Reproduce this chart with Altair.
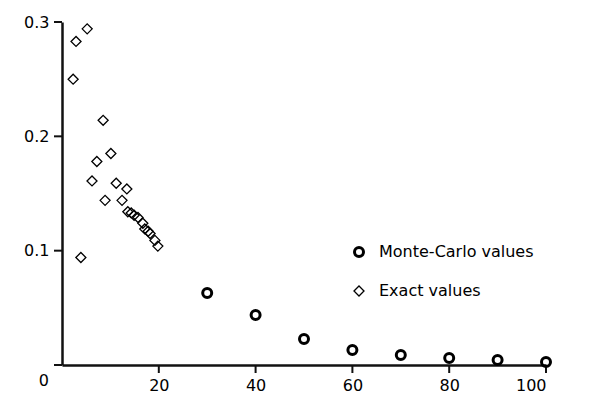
import altair as alt
import pandas as pd

# Monte-Carlo values
mc_x = [30, 40, 50, 60, 70, 80, 90, 100]
mc_y = [0.063, 0.0437, 0.0227, 0.0131, 0.0087, 0.0061, 0.0044, 0.0026]

# Exact values
ex_x = [2.3, 2.9, 5.2, 3.9, 8.5, 7.2, 10.1, 6.2, 8.9, 11.2, 13.4, 12.4,
        13.6, 14.3, 14.9, 15.7, 16.7, 17.1, 17.8, 18.2, 19.2, 19.8]
ex_y = [0.250, 0.283, 0.294, 0.094, 0.214, 0.178, 0.185, 0.161, 0.144, 0.159,
        0.154, 0.144, 0.134, 0.133, 0.131, 0.129, 0.124, 0.119, 0.117, 0.115,
        0.109, 0.104]

series_names = ["Monte-Carlo values", "Exact values"]
x_ticks = [20, 40, 60, 80, 100]
y_ticks = [0, 0.1, 0.2, 0.3]
zero_label = ["0"]

W, H = 484, 343

df = pd.DataFrame(
    {"x": mc_x + ex_x,
     "y": mc_y + ex_y,
     "series": [series_names[0]] * len(mc_x) + [series_names[1]] * len(ex_x)}
)

FONT = "DejaVu Sans"
leg = dict(title=None, orient="none", legendX=289, legendY=222)
axis_style = dict(
    title=None, grid=False, domain=True, ticks=False,
    domainColor="#111111", domainWidth=2.5,
    labelColor="black", labelFont=FONT, labelFontSize=16,
)

xs = alt.Scale(domain=[0, 100], nice=False, zero=True)
ys = alt.Scale(domain=[0, 0.3], nice=False)

points = alt.Chart(df).mark_point(filled=False, color="black", opacity=1).encode(
    x=alt.X("x:Q", scale=xs, axis=alt.Axis(values=x_ticks, labelPadding=12, **axis_style)),
    y=alt.Y("y:Q", scale=ys,
            axis=alt.Axis(values=[v for v in y_ticks if v != 0], format="~g", labelPadding=13,
                          **axis_style)),
    shape=alt.Shape("series:N", scale=alt.Scale(domain=series_names, range=["circle", "diamond"]),
                    legend=alt.Legend(**leg)),
    size=alt.Size("series:N", scale=alt.Scale(domain=series_names, range=[81, 100]),
                  legend=alt.Legend(**leg)),
    strokeWidth=alt.StrokeWidth("series:N", scale=alt.Scale(domain=series_names, range=[3, 1.3]),
                                legend=alt.Legend(**leg)),
)

xtick_rules = alt.Chart(pd.DataFrame({"t": x_ticks})).mark_rule(color="#111111", strokeWidth=2).encode(
    x=alt.X("t:Q", scale=xs), y=alt.value(H), y2=alt.value(H + 8)
)
ytick_rules = alt.Chart(pd.DataFrame({"t": y_ticks})).mark_rule(color="#111111", strokeWidth=2).encode(
    y=alt.Y("t:Q", scale=ys), x=alt.value(-8), x2=alt.value(0)
)
zero_text = alt.Chart(pd.DataFrame({"x": [0], "y": [0], "label": zero_label})).mark_text(
    font=FONT, fontSize=16, color="black", align="right", baseline="middle", dx=-13, dy=16
).encode(x=alt.X("x:Q", scale=xs), y=alt.Y("y:Q", scale=ys), text="label:N")

chart = alt.layer(xtick_rules, ytick_rules, points, zero_text).properties(
    width=W, height=H,
    autosize=alt.AutoSizeParams(type="none"),
    padding={"left": 54, "top": 14, "right": 54, "bottom": 28},
).configure_view(stroke=None).configure_legend(
    labelFont=FONT, labelFontSize=16, labelColor="black", rowPadding=20, labelOffset=12,
    symbolStrokeColor="black",
)

chart.save("out.html", embed_options={"renderer": "svg", "actions": False})
